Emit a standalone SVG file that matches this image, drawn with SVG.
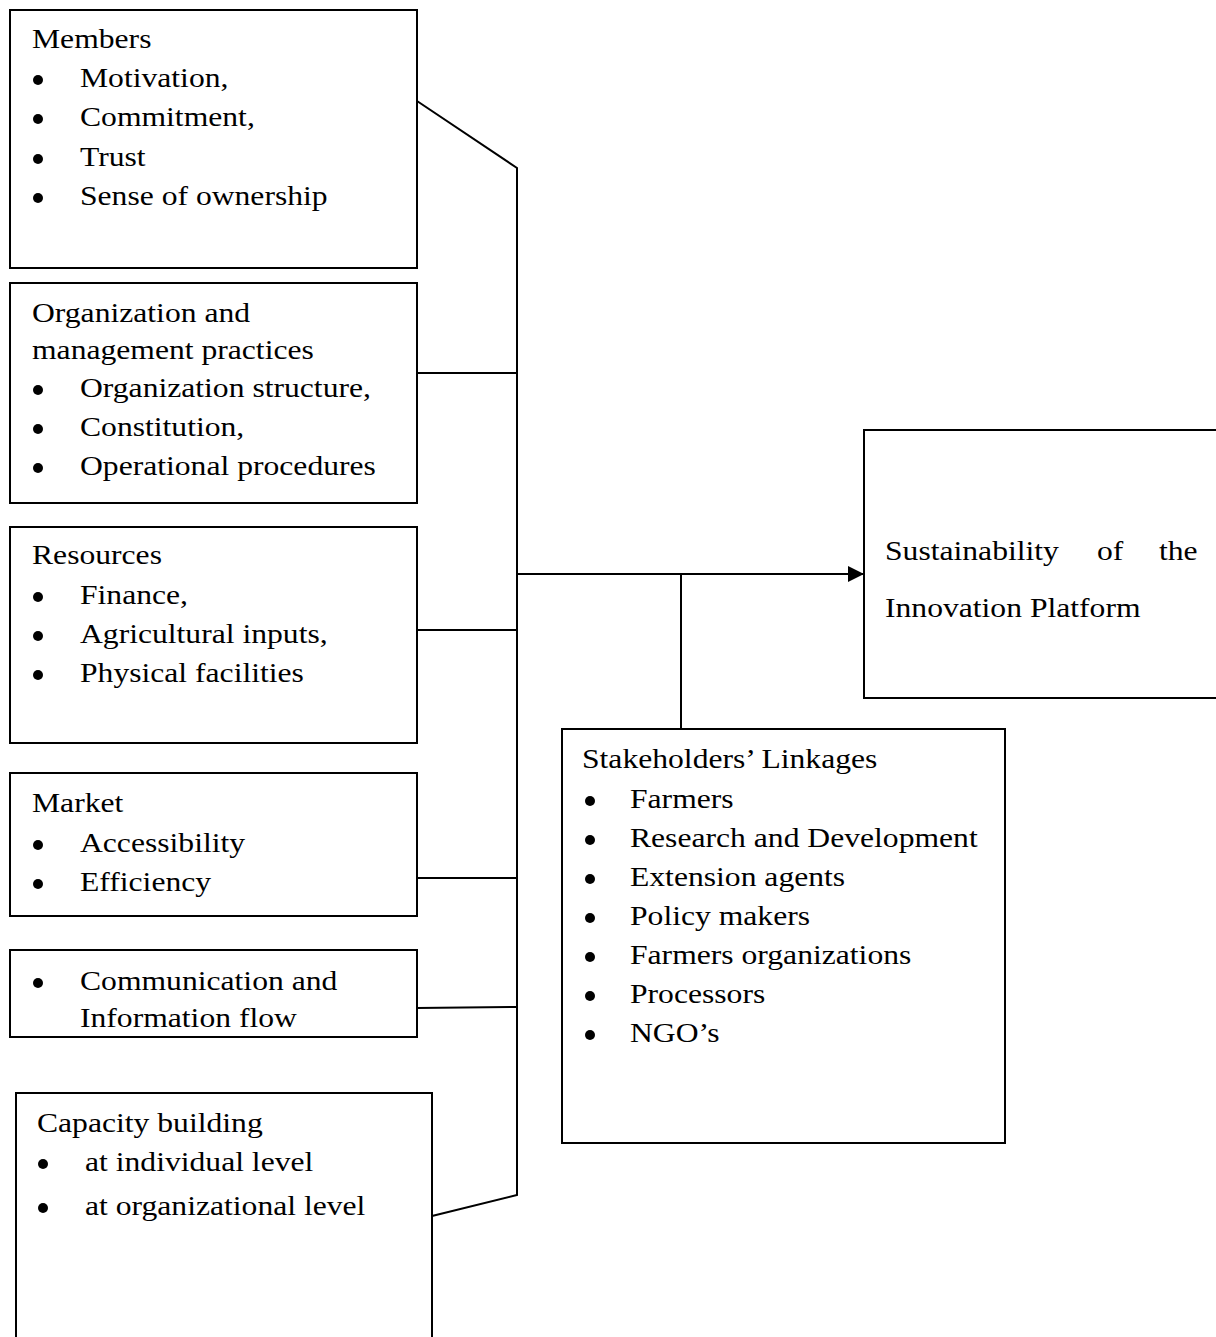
<svg xmlns="http://www.w3.org/2000/svg" width="1216" height="1337" viewBox="0 0 1216 1337">
<style>
.box{fill:#fff;stroke:#000;stroke-width:2}
.ln{fill:none;stroke:#000;stroke-width:2}
text{font-family:"Liberation Serif","Times New Roman",serif;font-size:28px;fill:#000}
.dot{fill:#000}
</style>
<defs>
<marker id="arr" viewBox="0 0 10 10" refX="10" refY="5" markerWidth="16" markerHeight="16" markerUnits="userSpaceOnUse" orient="auto">
<path d="M0,0 L10,5 L0,10 z" fill="#000"/>
</marker>
</defs>
<rect width="1216" height="1337" fill="#fff"/>
<g id="connectors">
<polyline class="ln" points="417,101 517,168 517,1195 432,1216"/>
<line class="ln" x1="417" y1="373" x2="517" y2="373"/>
<line class="ln" x1="417" y1="630" x2="517" y2="630"/>
<line class="ln" x1="417" y1="878" x2="517" y2="878"/>
<line class="ln" x1="417" y1="1008" x2="517" y2="1007"/>
<line class="ln" x1="517" y1="574" x2="864" y2="574" stroke-width="2.5" marker-end="url(#arr)"/>
<line class="ln" x1="681" y1="574" x2="681" y2="729"/>
</g>
<g id="members">
<rect class="box" x="10" y="10" width="407" height="258"/>
<g transform="matrix(1.13,0,0,1,-4.16,0)"><text x="32" y="48">Members</text></g>
<g transform="matrix(1.13,0,0,1,-10.4,0)">
<text x="80" y="87">Motivation,</text>
<text x="80" y="126">Commitment,</text>
<text x="80" y="166">Trust</text>
<text x="80" y="205">Sense of ownership</text>
</g>
<circle class="dot" cx="38" cy="80" r="5"/><circle class="dot" cx="38" cy="119" r="5"/><circle class="dot" cx="38" cy="159" r="5"/><circle class="dot" cx="38" cy="198" r="5"/>
</g>
<g id="organization">
<rect class="box" x="10" y="283" width="407" height="220"/>
<g transform="matrix(1.13,0,0,1,-4.16,0)">
<text x="32" y="322">Organization and</text>
<text x="32" y="359">management practices</text>
</g>
<g transform="matrix(1.13,0,0,1,-10.4,0)">
<text x="80" y="397">Organization structure,</text>
<text x="80" y="436">Constitution,</text>
<text x="80" y="475">Operational procedures</text>
</g>
<circle class="dot" cx="38" cy="390" r="5"/><circle class="dot" cx="38" cy="429" r="5"/><circle class="dot" cx="38" cy="468" r="5"/>
</g>
<g id="resources">
<rect class="box" x="10" y="527" width="407" height="216"/>
<g transform="matrix(1.13,0,0,1,-4.16,0)"><text x="32" y="564">Resources</text></g>
<g transform="matrix(1.13,0,0,1,-10.4,0)">
<text x="80" y="604">Finance,</text>
<text x="80" y="643">Agricultural inputs,</text>
<text x="80" y="682">Physical facilities</text>
</g>
<circle class="dot" cx="38" cy="597" r="5"/><circle class="dot" cx="38" cy="636" r="5"/><circle class="dot" cx="38" cy="675" r="5"/>
</g>
<g id="market">
<rect class="box" x="10" y="773" width="407" height="143"/>
<g transform="matrix(1.13,0,0,1,-4.16,0)"><text x="32" y="812">Market</text></g>
<g transform="matrix(1.13,0,0,1,-10.4,0)">
<text x="80" y="852">Accessibility</text>
<text x="80" y="891">Efficiency</text>
</g>
<circle class="dot" cx="38" cy="845" r="5"/><circle class="dot" cx="38" cy="884" r="5"/>
</g>
<g id="communication">
<rect class="box" x="10" y="950" width="407" height="87"/>
<g transform="matrix(1.13,0,0,1,-10.4,0)">
<text x="80" y="990">Communication and</text>
<text x="80" y="1027">Information flow</text>
</g>
<circle class="dot" cx="38" cy="983" r="5"/>
</g>
<g id="capacity">
<path class="box" d="M16,1340 L16,1093 L432,1093 L432,1340"/>
<g transform="matrix(1.13,0,0,1,-4.81,0)"><text x="37" y="1132">Capacity building</text></g>
<g transform="matrix(1.13,0,0,1,-11.05,0)">
<text x="85" y="1171">at individual level</text>
<text x="85" y="1215">at organizational level</text>
</g>
<circle class="dot" cx="43" cy="1164" r="5"/><circle class="dot" cx="43" cy="1208" r="5"/>
</g>
<g id="sustainability">
<rect class="box" x="864" y="430" width="360" height="268"/>
<g transform="matrix(1.13,0,0,1,-115.05,0)">
<text x="885" y="560">Sustainability</text>
<text x="1072.6" y="560">of</text>
<text x="1127.5" y="560">the</text>
<text x="885" y="617">Innovation Platform</text>
</g>
</g>
<g id="stakeholders">
<rect class="box" x="562" y="729" width="443" height="414"/>
<g transform="matrix(1.13,0,0,1,-75.66,0)"><text x="582" y="768">Stakeholders’ Linkages</text></g>
<g transform="matrix(1.13,0,0,1,-81.9,0)">
<text x="630" y="808">Farmers</text>
<text x="630" y="847">Research and Development</text>
<text x="630" y="886">Extension agents</text>
<text x="630" y="925">Policy makers</text>
<text x="630" y="964">Farmers organizations</text>
<text x="630" y="1003">Processors</text>
<text x="630" y="1042">NGO’s</text>
</g>
<circle class="dot" cx="590" cy="801" r="5"/><circle class="dot" cx="590" cy="840" r="5"/><circle class="dot" cx="590" cy="879" r="5"/><circle class="dot" cx="590" cy="918" r="5"/><circle class="dot" cx="590" cy="957" r="5"/><circle class="dot" cx="590" cy="996" r="5"/><circle class="dot" cx="590" cy="1035" r="5"/>
</g>
</svg>
